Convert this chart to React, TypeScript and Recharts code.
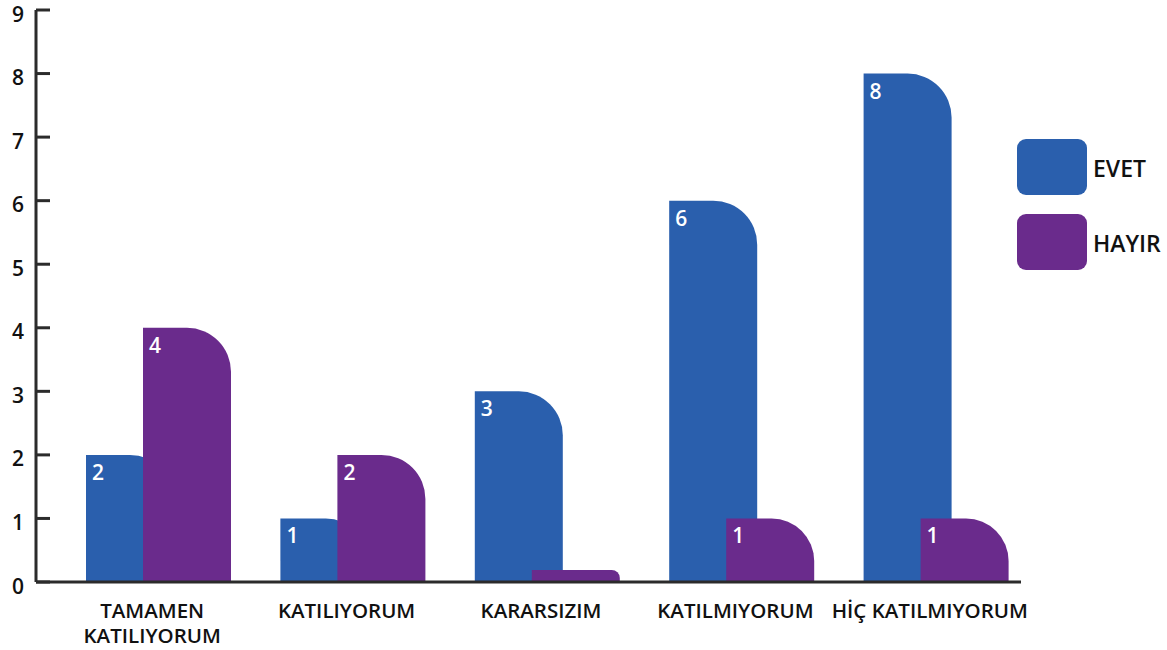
import React from 'react';
import { BarChart, Bar, XAxis, YAxis, Legend, LabelList } from 'recharts';

const categories = ['TAMAMEN\nKATILIYORUM', 'KATILIYORUM', 'KARARSIZIM', 'KATILMIYORUM', 'HİÇ KATILMIYORUM'];
const evetValues = [2, 1, 3, 6, 8];
const hayirValues = [4, 2, 0, 1, 1];
const yTicks = [0, 1, 2, 3, 4, 5, 6, 7, 8, 9];
const seriesNames = ['EVET', 'HAYIR'];

const BLUE = '#2A5FAD';
const PURPLE = '#6A2B8C';
const AXIS = '#2b2b2b';
const TEXT = '#111111';
const FONT = '"Open Sans", "Noto Sans", sans-serif';

const data = categories.map((c, i) => ({ name: c, evet: evetValues[i], hayir: hayirValues[i] }));

const RoundedBar = (props: any) => {
  const { x, y, width, height, fill } = props;
  if (!width || height == null) return null;
  const h = Math.abs(height);
  const top = height >= 0 ? y : y + height;
  const r = Math.max(0, Math.min(50, width / 2, h * 0.67));
  const d = `M${x},${top + h} L${x},${top} L${x + width - r},${top} A${r},${r} 0 0 1 ${x + width},${top + r} L${x + width},${top + h} Z`;
  return <path d={d} fill={fill} />;
};

const YTick = (props: any) => {
  const { x, y, payload } = props;
  return (
    <g>
      <line x1={x} x2={x + 14} y1={y} y2={y} stroke={AXIS} strokeWidth={3} />
      <text x={x - 12} y={y} dy={11.5} textAnchor="end" fontFamily={FONT} fontSize={21} fontWeight={600} fill={TEXT}>
        {payload.value}
      </text>
    </g>
  );
};

const RightTick = (props: any) => {
  const { x, y } = props;
  return <line x1={x} x2={x} y1={y} y2={y - 8} stroke={AXIS} strokeWidth={3} />;
};

const XTick = (props: any) => {
  const { x, y, payload } = props;
  const lines = String(payload.value).split('\n');
  const cx = x - 6;
  return (
    <text x={cx} y={y + 35.5} textAnchor="middle" fontFamily={FONT} fontSize={20.5} fontWeight={600} fill={TEXT}>
      {lines.map((l, i) => (
        <tspan key={i} x={cx} dy={i === 0 ? 0 : 25}>
          {l}
        </tspan>
      ))}
    </text>
  );
};

const ValueLabel = (props: any) => {
  const { x, y, value } = props;
  if (!value) return null;
  return (
    <text x={Number(x) + 6} y={Number(y) + 25} fontFamily={FONT} fontSize={21} fontWeight={600} fill="#ffffff">
      {value}
    </text>
  );
};

const renderLegend = (props: any) => {
  const payload = props.payload || [];
  return (
    <svg width={150} height={140} style={{ display: 'block' }}>
      {payload.map((p: any, i: number) => (
        <g key={i}>
          <rect x={0} y={i * 75} width={70} height={56} rx={9} ry={9} fill={p.color} />
          <text x={76} y={i * 75 + 38} fontFamily={FONT} fontSize={23} fontWeight={600} fill={TEXT}>
            {p.value}
          </text>
        </g>
      ))}
    </svg>
  );
};

export default function App() {
  return (
    <div style={{ position: 'absolute', left: 0, top: 0, width: 1167, height: 650, background: '#fff' }}>
      <BarChart
        width={1167}
        height={650}
        data={data}
        margin={{ top: 10, right: 146, bottom: 0, left: 0 }}
        barSize={88}
        barGap={-31}
      >
        <XAxis
          dataKey="name"
          interval={0}
          tickLine={false}
          tickSize={0}
          tickMargin={0}
          height={68}
          padding={{ left: 25, right: -12 }}
          axisLine={{ stroke: AXIS, strokeWidth: 3 }}
          tick={<XTick />}
        />
        <YAxis
          domain={[0, 9]}
          ticks={yTicks}
          interval={0}
          width={36}
          tickLine={false}
          tickSize={0}
          tickMargin={0}
          axisLine={{ stroke: AXIS, strokeWidth: 3 }}
          tick={<YTick />}
        />
        <YAxis
          yAxisId="r"
          orientation="right"
          domain={[0, 9]}
          ticks={[0]}
          width={0}
          axisLine={false}
          tickLine={false}
          tickSize={0}
          tickMargin={0}
          tick={<RightTick />}
        />
        <Legend
          layout="vertical"
          align="center"
          verticalAlign="middle"
          wrapperStyle={{ top: 139, left: 1017, width: 150, height: 140 }}
          content={renderLegend}
        />
        <Bar dataKey="evet" name={seriesNames[0]} fill={BLUE} shape={<RoundedBar />} isAnimationActive={false}>
          <LabelList dataKey="evet" content={<ValueLabel />} />
        </Bar>
        <Bar dataKey="hayir" name={seriesNames[1]} fill={PURPLE} shape={<RoundedBar />} minPointSize={12} isAnimationActive={false}>
          <LabelList dataKey="hayir" content={<ValueLabel />} />
        </Bar>
      </BarChart>
    </div>
  );
}
